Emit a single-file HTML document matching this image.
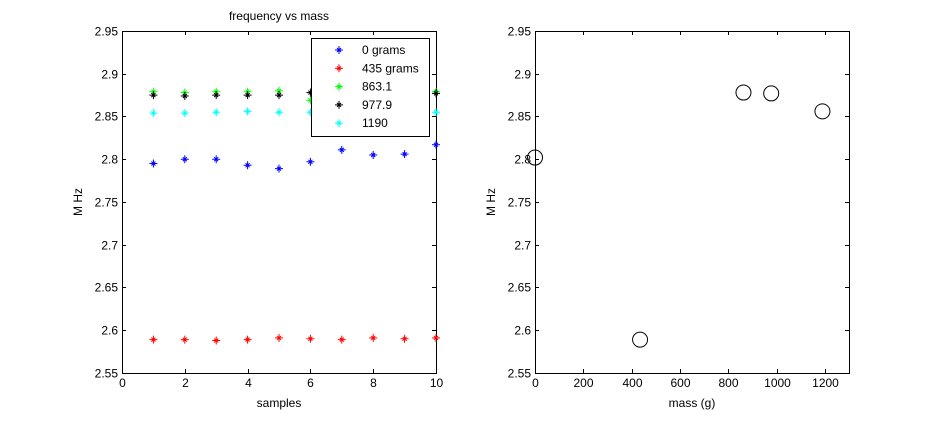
<!DOCTYPE html>
<html><head><meta charset="utf-8"><style>
body{margin:0;background:#fff;}
svg text{font-family:"Liberation Sans",sans-serif;font-size:12px;fill:#000;}
</style></head><body>
<svg id="c" width="938" height="420" xmlns="http://www.w3.org/2000/svg"></svg>
<script>
const samples=[1,2,3,4,5,6,7,8,9,10];
const s0=[2.795,2.800,2.800,2.793,2.789,2.797,2.811,2.805,2.806,2.817];
const s435=[2.589,2.589,2.588,2.589,2.591,2.590,2.589,2.591,2.590,2.591];
const s863=[2.879,2.878,2.879,2.879,2.880,2.869,2.878,2.878,2.878,2.879];
const s978=[2.875,2.874,2.875,2.875,2.875,2.878,2.876,2.876,2.876,2.877];
const s1190=[2.854,2.854,2.855,2.856,2.855,2.855,2.855,2.855,2.855,2.855];
const seriesNames=["0 grams","435 grams","863.1","977.9","1190"];
const masses=[0,435,863.1,977.9,1190];
const meanFreq=[2.802,2.589,2.878,2.877,2.856];
const yTicks=[2.55,2.6,2.65,2.7,2.75,2.8,2.85,2.9,2.95];
const xTicksL=[0,2,4,6,8,10];
const xTicksR=[0,200,400,600,800,1000,1200];

const NS="http://www.w3.org/2000/svg";
const svg=document.getElementById('c');
function mk(t,a,p){const e=document.createElementNS(NS,t);for(const k in a)e.setAttribute(k,a[k]);(p||svg).appendChild(e);return e;}
const yTop=31,yBot=373;
const y=v=>yBot-(v-2.55)/0.4*(yBot-yTop);
const xL=v=>122+v/10*(436-122);
const xR=v=>535+v/1300*(849-535);
function axes(x0,x1,xs,xt,name,xlabel){
  const g=mk('g',{});
  
  
  mk('rect',{x:x0+0.5,y:yTop+0.5,width:x1-x0,height:yBot-yTop,fill:'#fff',stroke:'#000','stroke-width':1},g);
  yTicks.forEach(v=>{const yy=Math.round(y(v))+0.5;
    mk('line',{x1:x0,x2:x0+4,y1:yy,y2:yy,stroke:'#000'},g);
    mk('line',{x1:x1-4,x2:x1,y1:yy,y2:yy,stroke:'#000'},g);
    const t=mk('text',{x:x0-4,y:yy+4,'text-anchor':'end'},g);t.textContent=v;
    
    });
  xt.forEach(v=>{const xx=Math.round(xs(v))+0.5;
    mk('line',{x1:xx,x2:xx,y1:yBot,y2:yBot-4,stroke:'#000'},g);
    mk('line',{x1:xx,x2:xx,y1:yTop,y2:yTop+4,stroke:'#000'},g);
    const t=mk('text',{x:xx,y:yBot+14,'text-anchor':'middle'},g);t.textContent=v;
    
    });
  const xl=mk('text',{x:(x0+x1)/2,y:yBot+34,'text-anchor':'middle'},g);xl.textContent=xlabel;
  
  
  const yl=mk('text',{x:0,y:0,'text-anchor':'middle',transform:`translate(${x0-40},${(yTop+yBot)/2}) rotate(-90)`},g);yl.textContent='M Hz';
  
  
}
function star(cx,cy,col,p){
  const g=mk('g',{stroke:col,'stroke-width':1},p);
  
  
  mk('line',{x1:cx-4,x2:cx+4,y1:cy,y2:cy},g);
  mk('line',{x1:cx,x2:cx,y1:cy-4,y2:cy+4},g);
  mk('line',{x1:cx-2,x2:cx+2,y1:cy-2,y2:cy+2},g);
  mk('line',{x1:cx-2,x2:cx+2,y1:cy+2,y2:cy-2},g);
}
axes(122,436,xL,xTicksL,'left-axes','samples');
axes(535,849,xR,xTicksR,'right-axes','mass (g)');
const tt=mk('text',{x:279,y:20,'text-anchor':'middle'});tt.textContent='frequency vs mass';


const cols=['#0000ff','#ff0000','#00ff00','#000000','#00ffff'];
[s0,s435,s863,s978,s1190].forEach((s,i)=>{s.forEach((v,j)=>star(xL(samples[j]),y(v),cols[i]));});
const lg=mk('g',{});


mk('rect',{x:311.5,y:38.5,width:118,height:98,fill:'#fff',stroke:'#000'},lg);
seriesNames.forEach((n,i)=>{const yy=50+i*18.3;
  star(339,yy,cols[i],lg);
  const t=mk('text',{x:362,y:yy+4},lg);t.textContent=n;
  
  });
masses.forEach((m,i)=>{const c=mk('circle',{cx:xR(m),cy:y(meanFreq[i]),r:7.5,fill:'none',stroke:'#000'});
  
  });
</script>
</body></html>
